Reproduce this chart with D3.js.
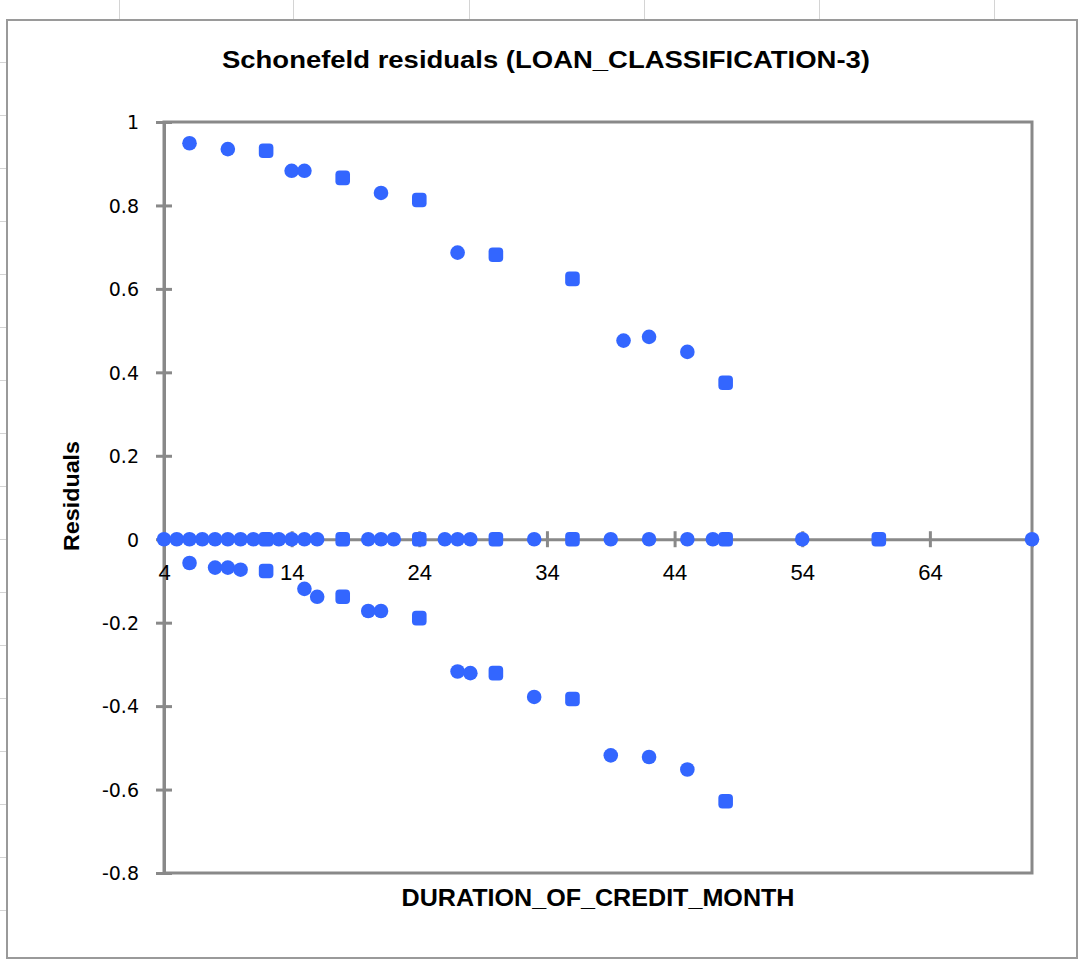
<!DOCTYPE html>
<html>
<head>
<meta charset="utf-8">
<script src="https://cdn.jsdelivr.net/npm/d3@7"></script>
<style>
  body { margin: 0; background: #ffffff; }
  svg { display: block; }
</style>
</head>
<body>
<div id="chart"></div>
<script>
// Chart data
var title = 'Schonefeld residuals (LOAN_CLASSIFICATION-3)';
var xTitle = 'DURATION_OF_CREDIT_MONTH';
var yTitle = 'Residuals';

var xTicks = [4, 14, 24, 34, 44, 54, 64];
var yTicks = [-0.8, -0.6, -0.4, -0.2, 0, 0.2, 0.4, 0.6, 0.8, 1];
var yTickLabels = ['-0.8', '-0.6', '-0.4', '-0.2', '0', '0.2', '0.4', '0.6', '0.8', '1'];

// points lying on the zero line
var zeroDurations = [4, 5, 6, 7, 8, 9, 10, 11, 12, 13, 14, 15, 16, 18, 20, 21, 22, 24, 26, 27, 28, 30,
    33, 36, 39, 42, 45, 47, 48, 54, 60, 72];

// upper branch
var upperDurations = [6, 9, 12, 14, 15, 18, 21, 24, 27, 30, 36, 40, 42, 45, 48];
var upperResiduals = [0.949, 0.935, 0.931, 0.883, 0.883, 0.866, 0.830, 0.813, 0.687, 0.682, 0.624,
    0.476, 0.485, 0.449, 0.375];

// lower branch
var lowerDurations = [6, 8, 9, 10, 12, 15, 16, 18, 20, 21, 24, 27, 28, 30, 33, 36, 39, 42, 45, 48];
var lowerResiduals = [-0.057, -0.068, -0.068, -0.073, -0.076, -0.119, -0.138, -0.138, -0.172, -0.172,
    -0.189, -0.317, -0.321, -0.321, -0.378, -0.383, -0.518, -0.522, -0.552, -0.628];

// durations where many loans overlap (markers look squarer there)
var denseDurations = [12, 18, 24, 30, 36, 48, 60];

var width = 1083,
    height = 961,
    margin = { left: 164, right: 51, top: 122, bottom: 88 },
    axisColor = '#898989',
    dotColor = '#3366ff',
    narrowFont = '"Liberation Sans Narrow", "Liberation Sans", Arial, sans-serif',
    tickFont = '"DejaVu Sans", Verdana, sans-serif';

var svg = d3.select('#chart').append('svg')
    .attr('width', width)
    .attr('height', height);

// faint spreadsheet grid peeking around the chart
var sheet = svg.append('g').attr('stroke', '#d4d4d4').attr('stroke-width', 1);
[119, 293, 469, 644, 819, 994].forEach(function (gx) {
    sheet.append('line').attr('x1', gx + 0.5).attr('x2', gx + 0.5).attr('y1', 0).attr('y2', 19);
});
for (var gy = 62; gy < height; gy += 53) {
    sheet.append('line').attr('x1', 0).attr('x2', 6).attr('y1', gy + 0.5).attr('y2', gy + 0.5);
}

// chart area border
svg.append('rect')
    .attr('x', 7)
    .attr('y', 20)
    .attr('width', 1070)
    .attr('height', 938)
    .attr('fill', '#ffffff')
    .attr('stroke', '#9a9a9a')
    .attr('stroke-width', 2);

var x = d3.scaleLinear().domain([4, 72]).range([margin.left, width - margin.right]);
var y = d3.scaleLinear().domain([-0.8, 1]).range([height - margin.bottom, margin.top]);

// plot area frame
svg.append('rect')
    .attr('x', x(4))
    .attr('y', y(1))
    .attr('width', x(72) - x(4))
    .attr('height', y(-0.8) - y(1))
    .attr('fill', 'none')
    .attr('stroke', axisColor)
    .attr('stroke-width', 3);

// y axis
var yAxis = svg.append('g')
    .attr('transform', 'translate(' + x(4) + ',0)')
    .call(d3.axisLeft(y).tickValues(yTicks).tickSize(8).tickPadding(17)
        .tickFormat(function (d, i) { return yTickLabels[i]; }));
yAxis.select('.domain').attr('stroke', axisColor).attr('stroke-width', 3);
yAxis.selectAll('.tick line').attr('x1', 8).attr('stroke', axisColor).attr('stroke-width', 3);
yAxis.selectAll('.tick text')
    .style('font-family', tickFont)
    .style('font-size', '19px')
    .attr('dy', '0.36em')
    .attr('fill', '#000000');

// x axis crossing at zero
var xAxis = svg.append('g')
    .attr('transform', 'translate(0,' + y(0) + ')')
    .call(d3.axisBottom(x).tickValues(xTicks).tickSize(8).tickPadding(0)
        .tickFormat(d3.format('d')));
xAxis.select('.domain').attr('stroke', axisColor).attr('stroke-width', 3);
xAxis.selectAll('.tick line').attr('y1', -8).attr('stroke', axisColor).attr('stroke-width', 3);
xAxis.selectAll('.tick text')
    .attr('y', 41)
    .attr('dy', 0)
    .style('font-family', narrowFont)
    .style('font-size', '22px')
    .attr('fill', '#000000');

// points
var points = [];
zeroDurations.forEach(function (d) { points.push({ x: d, y: 0 }); });
upperDurations.forEach(function (d, i) { points.push({ x: d, y: upperResiduals[i] }); });
lowerDurations.forEach(function (d, i) { points.push({ x: d, y: lowerResiduals[i] }); });

var dotG = svg.append('g').attr('fill', dotColor);
var markSize = 14.6;

dotG.selectAll('.dot')
    .data(points)
    .enter()
    .append('rect')
    .attr('class', 'dot')
    .attr('x', function (d) { return x(d.x) - markSize / 2; })
    .attr('y', function (d) { return y(d.y) - markSize / 2; })
    .attr('width', markSize)
    .attr('height', markSize)
    .attr('rx', function (d) { return denseDurations.indexOf(d.x) >= 0 ? 4 : markSize / 2; })
    .attr('ry', function (d) { return denseDurations.indexOf(d.x) >= 0 ? 4 : markSize / 2; });

// titles
svg.append('text')
    .attr('x', 546)
    .attr('y', 68)
    .attr('text-anchor', 'middle')
    .attr('textLength', 648)
    .attr('lengthAdjust', 'spacingAndGlyphs')
    .style('font-family', narrowFont)
    .style('font-weight', 'bold')
    .style('font-size', '24px')
    .text(title);

svg.append('text')
    .attr('x', (x(4) + x(72)) / 2)
    .attr('y', 906)
    .attr('text-anchor', 'middle')
    .attr('textLength', 393)
    .attr('lengthAdjust', 'spacingAndGlyphs')
    .style('font-family', narrowFont)
    .style('font-weight', 'bold')
    .style('font-size', '23px')
    .text(xTitle);

svg.append('text')
    .attr('transform', 'translate(79,' + 496 + ') rotate(-90)')
    .attr('text-anchor', 'middle')
    .attr('textLength', 110)
    .attr('lengthAdjust', 'spacingAndGlyphs')
    .style('font-family', narrowFont)
    .style('font-weight', 'bold')
    .style('font-size', '22px')
    .text(yTitle);
</script>
</body>
</html>
